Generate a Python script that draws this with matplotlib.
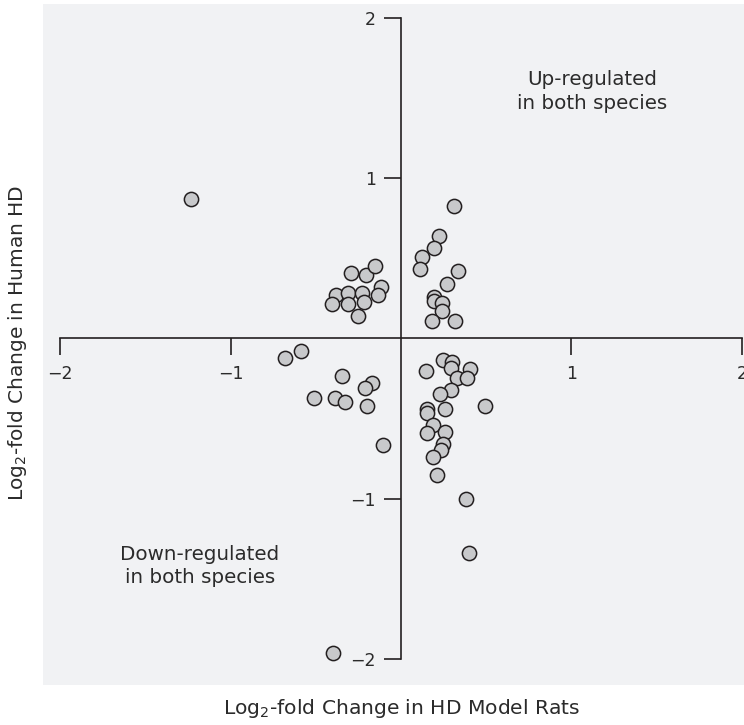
import matplotlib
matplotlib.use("Agg")
import matplotlib.pyplot as plt
import numpy as np

# log2-fold change: HD model rats (x) vs human HD (y)
rat_fold = [
    -1.233,
    -0.291, -0.207, -0.154, -0.381, -0.309, -0.230, -0.117, -0.137, -0.403, -0.309, -0.219, -0.254,
    0.313, 0.223, 0.192, 0.125, 0.111, 0.336, 0.270, 0.195, 0.195, 0.239, 0.239, 0.180, 0.315,
    -0.680, -0.587, -0.348, -0.170, -0.209, -0.512, -0.385, -0.327, -0.199, -0.107,
    0.248, 0.299, 0.147, 0.293, 0.403, 0.328, 0.385, 0.291, 0.230, 0.493, 0.151, 0.258, 0.152,
    0.189, 0.152, 0.258, 0.245, 0.236, 0.186, 0.213, 0.383, 0.401,
    -0.397,
]
human_fold = [
    0.872,
    0.410, 0.394, 0.450, 0.273, 0.284, 0.284, 0.319, 0.271, 0.217, 0.217, 0.230, 0.142,
    0.827, 0.639, 0.563, 0.508, 0.434, 0.421, 0.338, 0.259, 0.236, 0.220, 0.172, 0.111, 0.111,
    -0.120, -0.080, -0.236, -0.278, -0.311, -0.369, -0.371, -0.396, -0.419, -0.663,
    -0.134, -0.145, -0.203, -0.186, -0.188, -0.248, -0.248, -0.319, -0.346, -0.421, -0.440, -0.440, -0.465,
    -0.541, -0.591, -0.581, -0.658, -0.696, -0.741, -0.852, -1.003, -1.338,
    -1.962,
]
x_ticks = [-2, -1, 1, 2]
y_ticks = [-2, -1, 1, 2]

INK = "#231f20"
TEXT = "#2b2b2b"
plt.rcParams["font.family"] = ["DejaVu Sans"]
plt.rcParams["mathtext.fontset"] = "dejavusans"

fig = plt.figure(figsize=(7.44, 7.25), dpi=100)
ax = fig.add_axes([43 / 744, 40 / 725, 701 / 744, 681 / 725])
ax.set_facecolor("#f1f2f4")
ax.set_xlim(-2.100, 2.012)
ax.set_ylim(-2.162, 2.087)

ax.scatter(rat_fold, human_fold, s=105, facecolor="#c8c9cb", edgecolor=INK,
           linewidth=1.1, zorder=3)

for side in ("top", "right"):
    ax.spines[side].set_visible(False)
for side in ("left", "bottom"):
    ax.spines[side].set_position(("data", 0))
    ax.spines[side].set_bounds(-2, 2)
    ax.spines[side].set_color(INK)
    ax.spines[side].set_linewidth(1.2)

ax.set_xticks(x_ticks)
ax.set_yticks(y_ticks)
ax.set_xticklabels([f"{t}".replace("-", "\u2212") for t in x_ticks])
ax.set_yticklabels([f"{t}".replace("-", "\u2212") for t in y_ticks])
ax.tick_params(axis="both", direction="out", length=12, width=1.2, color=INK,
               labelcolor=TEXT, labelsize=12.5)
ax.tick_params(axis="x", pad=7)
ax.tick_params(axis="y", pad=6)

ax.text(1.124, 1.54, "Up-regulated\nin both species", ha="center", va="center",
        fontsize=14.3, color=TEXT, linespacing=1.3)
ax.text(-1.179, -1.42, "Down-regulated\nin both species", ha="center", va="center",
        fontsize=14.3, color=TEXT, linespacing=1.3)

fig.text(402 / 744, 1 - 708 / 725, "Log$_2$-fold Change in HD Model Rats",
         ha="center", va="center", fontsize=14.6, color=TEXT)
fig.text(18 / 744, 1 - 343 / 725, "Log$_2$-fold Change in Human HD",
         ha="center", va="center", rotation=90, fontsize=14.5, color=TEXT)

fig.savefig("out.png", dpi=100)
plt.close(fig)
